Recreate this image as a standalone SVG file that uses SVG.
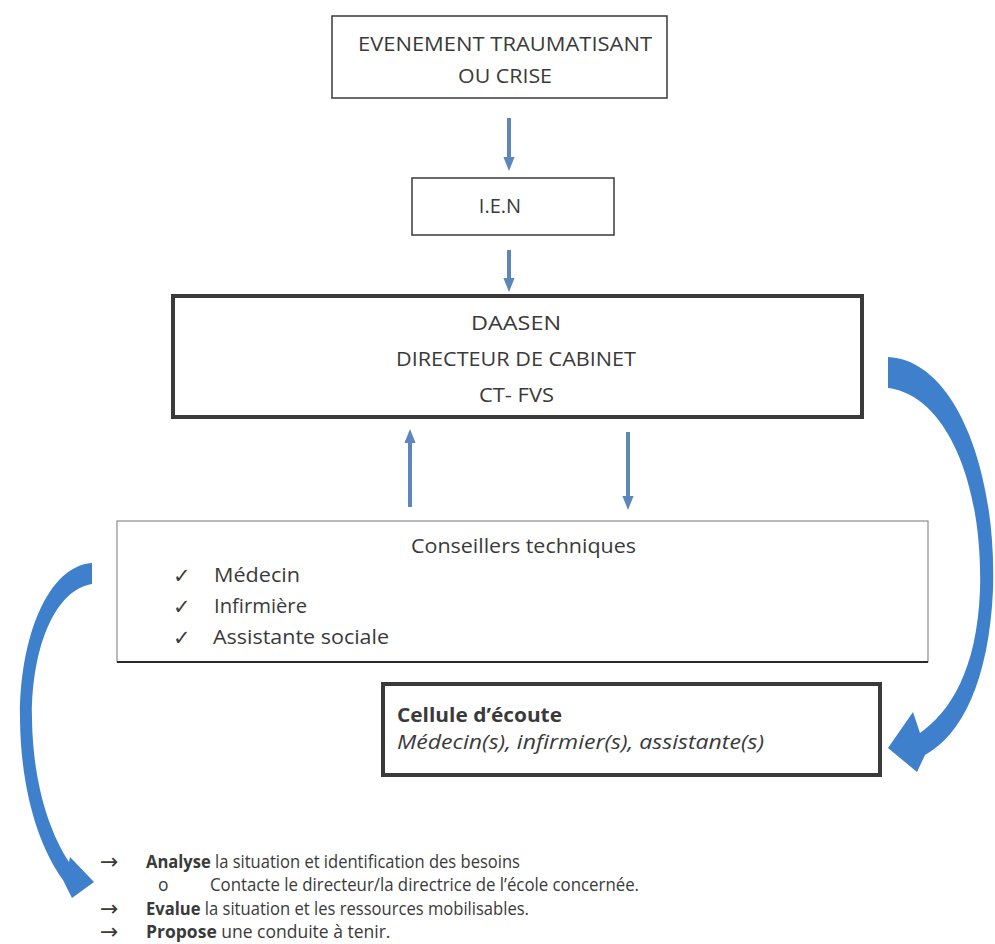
<svg xmlns="http://www.w3.org/2000/svg" width="995" height="944" viewBox="0 0 995 944">
<defs>
<style>
.box{fill:#ffffff;stroke:#3a3a3a;stroke-width:1.5}
.thick{fill:#ffffff;stroke:#3a3a3a;stroke-width:4}
.t{font-family:"Open Sans","Liberation Sans",sans-serif;font-size:20px;fill:#3a3a3a}
.l{font-family:"Open Sans","Liberation Sans",sans-serif;font-size:17.5px;fill:#3a3a3a}
.sym{font-family:"DejaVu Sans",sans-serif;fill:#3a3a3a}
.v{stroke:#5d86ba;stroke-width:4;fill:none}
.big{fill:#3f80cc}
</style>
<marker id="ah" viewBox="0 0 10 10" refX="5" refY="5" markerWidth="3.5" markerHeight="3.5" orient="auto">
<path d="M0,1 L10,5 L0,9 Z" fill="#5d86ba"/>
</marker>
</defs>
<rect width="995" height="944" fill="#ffffff"/>

<g id="connectors">
<line class="v" x1="509" y1="118" x2="509" y2="164" marker-end="url(#ah)"/>
<line class="v" x1="509" y1="250" x2="509" y2="285" marker-end="url(#ah)"/>
<line class="v" x1="410" y1="507" x2="410" y2="436" marker-end="url(#ah)"/>
<line class="v" x1="628" y1="432" x2="628" y2="503" marker-end="url(#ah)"/>
<path class="big" d="M888 357 C955 360 997 470 993 590 C989 680 962 735 925 755 L917 772 L888 748 L913 712 L920 733 C950 712 977 670 980 590 C983 480 945 395 888 388 Z"/>
<path class="big" d="M92 563 C47 566 19 640 20 720 C21 790 38 845 63 880 L72 898 L94 882 L70 857 L69 862 C48 830 33 780 32 720 C31 650 54 590 92 584 Z"/>
</g>

<g id="node-evenement">
<rect class="box" x="332" y="16" width="335" height="82"/>
<text class="t" x="358" y="51" textLength="294" lengthAdjust="spacingAndGlyphs">EVENEMENT TRAUMATISANT</text>
<text class="t" x="458" y="83" textLength="94" lengthAdjust="spacingAndGlyphs">OU CRISE</text>
</g>

<g id="node-ien">
<rect class="box" x="412" y="178" width="202" height="57"/>
<text class="t" x="500" y="213" text-anchor="middle">I.E.N</text>
</g>

<g id="node-daasen">
<rect class="thick" x="173" y="296" width="689" height="121"/>
<text class="t" x="471" y="330" textLength="90" lengthAdjust="spacingAndGlyphs">DAASEN</text>
<text class="t" x="396" y="366" textLength="240" lengthAdjust="spacingAndGlyphs">DIRECTEUR DE CABINET</text>
<text class="t" x="479" y="402" textLength="75" lengthAdjust="spacingAndGlyphs">CT- FVS</text>
</g>

<g id="node-conseillers">
<rect x="117" y="521" width="811" height="141" fill="#ffffff" stroke="#777" stroke-width="1"/>
<line x1="117" y1="662" x2="928" y2="662" stroke="#2a2a2a" stroke-width="2"/>
<text class="t" x="411" y="553" textLength="225" lengthAdjust="spacingAndGlyphs">Conseillers techniques</text>
<text class="sym" x="173" y="583" font-size="21">✓</text>
<text class="t" x="214" y="582" textLength="86" lengthAdjust="spacingAndGlyphs">Médecin</text>
<text class="sym" x="173" y="614" font-size="21">✓</text>
<text class="t" x="214" y="613" textLength="93" lengthAdjust="spacingAndGlyphs">Infirmière</text>
<text class="sym" x="173" y="645" font-size="21">✓</text>
<text class="t" x="213" y="644" textLength="176" lengthAdjust="spacingAndGlyphs">Assistante sociale</text>
</g>

<g id="node-cellule">
<rect class="thick" x="383" y="684" width="497" height="91"/>
<text class="t" x="397" y="722" font-weight="bold" textLength="165" lengthAdjust="spacingAndGlyphs">Cellule d’écoute</text>
<text class="t" x="397" y="749" font-style="italic" textLength="367" lengthAdjust="spacingAndGlyphs">Médecin(s), infirmier(s), assistante(s)</text>
</g>

<g id="actions">
<text class="sym" x="100" y="869" font-size="22">→</text>
<text class="l" x="146" y="868" textLength="374" lengthAdjust="spacingAndGlyphs"><tspan font-weight="bold">Analyse</tspan> la situation et identification des besoins</text>
<text class="l" x="158" y="891" font-size="15">o</text>
<text class="l" x="210" y="891" textLength="429" lengthAdjust="spacingAndGlyphs">Contacte le directeur/la directrice de l’école concernée.</text>
<text class="sym" x="100" y="916" font-size="22">→</text>
<text class="l" x="146" y="915" textLength="383" lengthAdjust="spacingAndGlyphs"><tspan font-weight="bold">Evalue</tspan> la situation et les ressources mobilisables.</text>
<text class="sym" x="100" y="939" font-size="22">→</text>
<text class="l" x="146" y="938"><tspan font-weight="bold">Propose</tspan> une conduite à tenir.</text>
</g>
</svg>
